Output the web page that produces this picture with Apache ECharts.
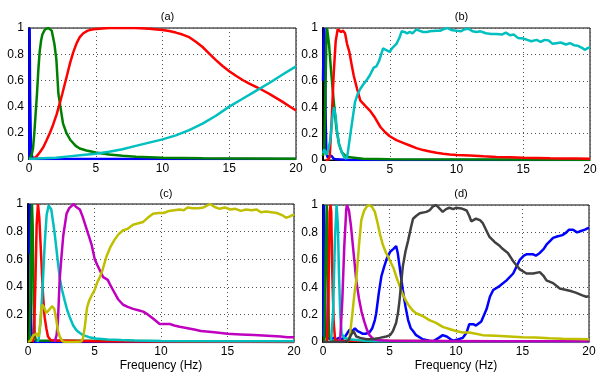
<!DOCTYPE html>
<html>
<head>
<meta charset="utf-8">
<script src="https://cdn.jsdelivr.net/npm/echarts@6/dist/echarts.min.js"></script>
<style>html,body{margin:0;padding:0;background:#fff}#c{width:602px;height:376px}</style>
</head>
<body>
<div id="c"></div>
<script>
// ---- data ([frequency Hz, normalized value]) ----
const xTicks = [0, 5, 10, 15, 20];
const yTicks = [0, 0.2, 0.4, 0.6, 0.8, 1];
const panelTitles = ['(a)', '(b)', '(c)', '(d)'];
const xLabel = 'Frequency (Hz)';

const aBlue = [[0.02,0],[0.05,1],[0.08,0.5],[0.15,0.05],[0.3,0],[20,0]];
const aGreen = [[0,0],[0.2,0.03],[0.3,0.08],[0.4,0.2],[0.5,0.35],[0.6,0.5],[0.7,0.68],[0.8,0.82],[0.9,0.9],[1.0,0.95],[1.2,0.99],[1.45,1],[1.7,0.98],[1.9,0.88],[2.05,0.76],[2.2,0.5],[2.35,0.4],[2.55,0.27],[2.8,0.2],[3.1,0.145],[3.5,0.1],[3.8,0.08],[4.3,0.065],[5,0.05],[6,0.035],[7,0.025],[8,0.018],[10,0.01],[13,0.005],[20,0.002]];
const aRed = [[0.3,0],[0.57,0.02],[0.8,0.05],[1.07,0.09],[1.3,0.14],[1.57,0.2],[1.8,0.26],[2.07,0.34],[2.32,0.43],[2.5,0.5],[2.7,0.58],[2.9,0.66],[3.07,0.73],[3.3,0.81],[3.57,0.885],[3.8,0.93],[4.07,0.96],[4.4,0.98],[4.82,0.99],[5.5,0.997],[6,1],[7,1],[8,1],[9,0.995],[10,0.985],[10.5,0.977],[11,0.965],[11.5,0.95],[12,0.93],[12.5,0.895],[13,0.855],[13.5,0.805],[14,0.755],[14.5,0.71],[15,0.67],[15.5,0.635],[16,0.603],[16.5,0.575],[17,0.55],[17.5,0.525],[18,0.497],[18.5,0.467],[19,0.436],[19.5,0.403],[20,0.37]];
const aCyan = [[0,0],[1,0.005],[2,0.01],[3,0.02],[4,0.03],[5,0.04],[6,0.055],[7,0.075],[8,0.1],[9,0.125],[10,0.15],[11,0.18],[12,0.22],[13,0.27],[14,0.33],[15,0.4],[16,0.46],[17,0.52],[18,0.58],[19,0.645],[20,0.707]];

const bBlue = [[0,0.6],[0.05,0.9],[0.1,1],[0.15,0.8],[0.2,0.3],[0.25,0.05],[0.35,0.02],[0.5,0.03],[0.65,0.03],[0.8,0.01],[1,0.005],[2,0],[20,0]];
const bGreen = [[0,0.03],[0.1,0.1],[0.18,0.5],[0.25,0.9],[0.3,1],[0.45,0.88],[0.6,0.68],[0.8,0.45],[1.0,0.24],[1.2,0.12],[1.4,0.06],[1.7,0.03],[2,0.02],[3,0.01],[5,0.005],[20,0.002]];
const bCyan = [[0,0.05],[0.1,0.08],[0.2,0.06],[0.3,0.04],[0.4,0.03],[0.55,0.15],[0.7,0.32],[0.82,0.4],[0.95,0.33],[1.05,0.22],[1.2,0.12],[1.4,0.06],[1.6,0.02],[1.75,0.01],[1.85,0.05],[2.0,0.16],[2.2,0.3],[2.4,0.44],[2.6,0.5],[2.8,0.54],[3.0,0.57],[3.3,0.61],[3.5,0.64],[3.8,0.7],[4.0,0.71],[4.2,0.75],[4.5,0.845],[4.7,0.835],[5.0,0.82],[5.2,0.85],[5.5,0.88],[5.7,0.92],[5.9,0.975],[6.1,0.97],[6.3,0.96],[6.5,0.97],[6.7,0.96],[7.0,0.99],[7.2,0.98],[7.5,0.97],[7.8,0.97],[8.0,0.975],[8.5,0.98],[8.8,0.98],[9.0,0.99],[9.3,1.0],[9.6,0.985],[10,0.98],[10.3,0.975],[10.6,0.99],[10.9,0.995],[11.2,0.975],[11.5,0.97],[11.8,0.975],[12.2,0.96],[12.6,0.955],[13,0.955],[13.4,0.95],[13.7,0.965],[14,0.945],[14.3,0.95],[14.6,0.925],[15,0.92],[15.3,0.91],[15.6,0.9],[16,0.91],[16.3,0.895],[16.6,0.91],[16.9,0.905],[17.2,0.88],[17.5,0.885],[17.8,0.89],[18.2,0.875],[18.5,0.885],[18.8,0.87],[19.1,0.865],[19.4,0.85],[19.6,0.835],[19.8,0.845],[20,0.855]];
const bRed = [[0.2,0],[0.35,0],[0.5,0.02],[0.65,0.3],[0.8,0.65],[0.95,0.9],[1.1,0.99],[1.2,1.0],[1.35,0.97],[1.5,0.98],[1.65,0.96],[1.8,0.88],[1.97,0.82],[2.15,0.72],[2.3,0.64],[2.55,0.54],[2.8,0.45],[3.17,0.41],[3.55,0.37],[3.9,0.32],[4.3,0.25],[4.66,0.21],[5.0,0.18],[5.5,0.15],[6,0.13],[6.5,0.11],[7,0.09],[7.5,0.075],[8,0.065],[8.5,0.055],[9,0.048],[9.5,0.042],[10,0.037],[11,0.035],[12,0.028],[13,0.023],[14,0.02],[15,0.017],[16,0.015],[17,0.013],[18,0.012],[19,0.011],[20,0.01]];

const cBlue = [[0.1,0.64],[0.14,1],[0.18,0.7],[0.22,0.2],[0.28,0.02],[0.5,0],[20,0]];
const cGreen = [[0.1,0],[0.18,0.3],[0.25,0.85],[0.3,1],[0.35,0.85],[0.42,0.3],[0.5,0.05],[0.6,0.01],[20,0]];
const cRed = [[0.35,0],[0.45,0.05],[0.55,0.4],[0.65,0.85],[0.75,1],[0.85,0.9],[1.0,0.6],[1.13,0.34],[1.25,0.18],[1.38,0.1],[1.5,0.04],[1.7,0.015],[2,0.01],[5,0.005],[20,0]];
const cCyan = [[0.7,0],[0.8,0.02],[0.95,0.15],[1.1,0.4],[1.25,0.7],[1.4,0.92],[1.55,0.99],[1.63,1],[1.75,0.96],[1.9,0.86],[2.0,0.79],[2.2,0.62],[2.38,0.47],[2.55,0.38],[2.76,0.3],[2.95,0.23],[3.14,0.18],[3.4,0.12],[3.64,0.085],[3.9,0.065],[4.14,0.05],[4.6,0.035],[5.1,0.025],[6,0.018],[7,0.014],[8,0.011],[10,0.008],[15,0.005],[20,0.005]];
const cMagenta = [[2.0,0],[2.15,0.05],[2.25,0.15],[2.38,0.45],[2.5,0.6],[2.65,0.77],[2.9,0.93],[3.1,0.97],[3.44,1.0],[3.6,0.98],[3.9,0.96],[4.1,0.91],[4.27,0.86],[4.5,0.79],[4.77,0.71],[5.02,0.6],[5.2,0.56],[5.4,0.52],[5.65,0.47],[6.0,0.45],[6.2,0.41],[6.4,0.375],[6.77,0.31],[7.15,0.27],[7.5,0.255],[7.9,0.24],[8.3,0.23],[8.66,0.22],[9.0,0.2],[9.4,0.17],[9.9,0.13],[10.3,0.13],[10.66,0.13],[11.0,0.12],[11.4,0.11],[12,0.1],[12.5,0.09],[13,0.08],[14,0.07],[15,0.06],[16,0.055],[17,0.05],[18,0.045],[19,0.04],[19.5,0.035],[20,0.035]];
const cYellow = [[0,0],[0.2,0.01],[0.4,0.05],[0.55,0.04],[0.7,0.06],[0.8,0.04],[0.9,0.12],[1.0,0.24],[1.08,0.27],[1.2,0.25],[1.38,0.21],[1.5,0.21],[1.65,0.24],[1.8,0.26],[1.88,0.27],[1.98,0.24],[2.13,0.16],[2.25,0.08],[2.38,0.04],[2.6,0.005],[2.8,0],[3.5,0],[4.0,0.003],[4.14,0.03],[4.27,0.11],[4.44,0.25],[4.6,0.3],[4.8,0.34],[5.0,0.375],[5.2,0.43],[5.4,0.47],[5.6,0.52],[5.9,0.62],[6.2,0.69],[6.5,0.74],[6.8,0.78],[7.15,0.81],[7.5,0.82],[7.9,0.85],[8.3,0.86],[8.66,0.87],[9.0,0.9],[9.4,0.93],[9.8,0.935],[10.2,0.935],[10.6,0.95],[11,0.955],[11.4,0.96],[11.7,0.955],[12.0,0.975],[12.4,0.97],[12.8,0.97],[13.2,0.975],[13.7,1.0],[14,0.98],[14.4,0.965],[14.8,0.975],[15.2,0.96],[15.6,0.965],[16,0.95],[16.4,0.96],[16.8,0.955],[17.2,0.96],[17.5,0.94],[17.9,0.945],[18.3,0.94],[18.7,0.935],[19.1,0.92],[19.4,0.9],[19.7,0.91],[20,0.925]];

const dBlue = [[0.02,0.04],[0.06,1],[0.1,1],[0.14,0.5],[0.2,0.05],[0.3,0.03],[0.45,0.04],[0.6,0.02],[0.8,0.03],[1.0,0.02],[1.2,0.03],[1.4,0.02],[1.6,0.03],[1.8,0.06],[2.0,0.09],[2.2,0.08],[2.4,0.1],[2.6,0.08],[2.8,0.07],[3.0,0.06],[3.2,0.06],[3.5,0.07],[3.7,0.1],[3.9,0.16],[4.0,0.21],[4.2,0.36],[4.39,0.48],[4.6,0.55],[4.8,0.61],[5.06,0.66],[5.3,0.68],[5.5,0.7],[5.62,0.65],[5.76,0.55],[6.0,0.38],[6.2,0.26],[6.4,0.16],[6.6,0.1],[6.77,0.08],[7.0,0.05],[7.5,0.02],[8.0,0.01],[8.27,0.005],[8.7,0.03],[9.0,0.05],[9.3,0.04],[9.6,0.02],[9.8,0.01],[10.2,0.02],[10.5,0.03],[10.8,0.07],[11.0,0.13],[11.3,0.13],[11.5,0.12],[11.9,0.15],[12.3,0.24],[12.55,0.33],[12.8,0.38],[13.3,0.41],[13.8,0.45],[14.3,0.5],[14.6,0.56],[14.8,0.6],[15.1,0.63],[15.3,0.64],[15.8,0.64],[16.0,0.63],[16.3,0.65],[16.6,0.68],[16.8,0.71],[17.1,0.74],[17.3,0.76],[17.6,0.77],[18.0,0.78],[18.3,0.8],[18.5,0.82],[18.8,0.82],[19.1,0.8],[19.4,0.81],[19.7,0.82],[20,0.835]];
const dGray = [[0,0],[1.5,0],[1.9,0.01],[2.1,0.05],[2.3,0.08],[2.5,0.04],[2.8,0.03],[3.26,0.02],[3.7,0.02],[4.26,0.03],[4.76,0.04],[5.05,0.05],[5.26,0.08],[5.5,0.14],[5.65,0.22],[5.76,0.31],[5.9,0.45],[6.0,0.55],[6.2,0.66],[6.4,0.74],[6.6,0.83],[6.77,0.9],[7.0,0.92],[7.27,0.94],[7.77,0.95],[8.0,0.96],[8.27,0.99],[8.5,1.0],[8.7,0.98],[9.0,0.95],[9.25,0.97],[9.5,0.98],[9.8,0.97],[10.0,0.98],[10.4,0.975],[10.8,0.96],[11.0,0.92],[11.15,0.88],[11.5,0.9],[11.8,0.89],[12.0,0.87],[12.3,0.81],[12.5,0.77],[12.9,0.73],[13.3,0.7],[13.5,0.68],[13.9,0.65],[14.3,0.59],[14.8,0.53],[15.3,0.5],[15.8,0.5],[16.3,0.51],[16.6,0.48],[16.8,0.45],[17.3,0.43],[17.8,0.39],[18.3,0.38],[18.7,0.37],[19.0,0.36],[19.5,0.34],[19.8,0.33],[20,0.335]];
const dYellow = [[1.8,0],[2.0,0.03],[2.2,0.2],[2.35,0.34],[2.5,0.45],[2.7,0.7],[2.88,0.89],[3.1,0.96],[3.3,0.99],[3.46,1.0],[3.7,0.985],[3.9,0.95],[4.1,0.87],[4.3,0.78],[4.5,0.71],[4.7,0.66],[4.9,0.62],[5.1,0.58],[5.3,0.54],[5.5,0.48],[5.76,0.41],[5.95,0.36],[6.14,0.32],[6.3,0.29],[6.5,0.26],[6.75,0.23],[7.0,0.21],[7.5,0.19],[8.0,0.16],[8.5,0.14],[9.0,0.11],[9.5,0.095],[10,0.08],[10.5,0.07],[11,0.07],[11.5,0.06],[12,0.05],[13,0.045],[14,0.04],[15,0.035],[16,0.032],[17,0.027],[18,0.024],[19,0.022],[20,0.02]];
const dMagenta = [[1.2,0],[1.3,0.03],[1.45,0.3],[1.6,0.7],[1.75,0.97],[1.8,1.0],[1.95,0.96],[2.1,0.85],[2.3,0.65],[2.5,0.45],[2.7,0.32],[2.9,0.22],[3.1,0.15],[3.3,0.09],[3.5,0.05],[3.8,0.02],[4.2,0.012],[5,0.01],[7,0.008],[10,0.005],[20,0.005]];
const dCyan = [[0.6,0],[0.75,0.2],[0.9,0.75],[1.02,1.0],[1.12,0.85],[1.2,0.5],[1.3,0.2],[1.4,0.06],[1.6,0.03],[2,0.02],[2.5,0.015],[3,0.01],[4,0.005],[20,0.003]];
const dRed = [[0.3,0],[0.4,0.3],[0.5,0.95],[0.56,1],[0.62,0.95],[0.7,0.5],[0.8,0.15],[0.9,0.03],[1.0,0.01],[20,0.003]];
const dGreen = [[0.1,0],[0.2,0.6],[0.28,1],[0.35,0.6],[0.45,0.05],[0.6,0.01],[20,0]];

// ---- styling / layout ----
const COL = {blue:'#0000ff', green:'#008000', red:'#ff0000', cyan:'#00bfbf', magenta:'#bf00bf', yellow:'#bfbf00', gray:'#404040'};
const FONT = '"Liberation Sans", Arial, Helvetica, sans-serif';
const grids = [
  {left:29, top:28, width:267, height:131},
  {left:323, top:28, width:267, height:132},
  {left:28, top:204, width:266, height:138},
  {left:323, top:205, width:266, height:137}
];
const panels = [
  [[aBlue,'blue'],[aGreen,'green'],[aRed,'red'],[aCyan,'cyan']],
  [[bBlue,'blue'],[bGreen,'green'],[bRed,'red'],[bCyan,'cyan']],
  [[cBlue,'blue'],[cGreen,'green'],[cRed,'red'],[cCyan,'cyan'],[cMagenta,'magenta'],[cYellow,'yellow']],
  [[dBlue,'blue'],[dGreen,'green'],[dRed,'red'],[dCyan,'cyan'],[dMagenta,'magenta'],[dYellow,'yellow'],[dGray,'gray']]
];

const fmt = v => String(+v.toFixed(1));
const option = {
  animation:false,
  backgroundColor:'#fff',
  title: grids.map((g,i)=>({
    text: panelTitles[i], left: g.left + g.width/2, top: i<2 ? 6 : 183, textAlign:'center',
    textStyle:{fontSize:11, fontWeight:'normal', color:'#000', fontFamily:FONT}
  })),
  grid: grids.map(g=>Object.assign({show:true, borderColor:'#000', borderWidth:1, backgroundColor:'transparent'}, g)),
  xAxis: grids.map((g,i)=>({
    type:'value', gridIndex:i, min:xTicks[0], max:xTicks[xTicks.length-1], interval:xTicks[1]-xTicks[0],
    name: i>=2 ? xLabel : '', nameLocation:'middle', nameGap:18,
    nameTextStyle:{fontSize:12, color:'#000', fontFamily:FONT},
    axisLine:{show:true, lineStyle:{color:'#000', width:1}},
    axisTick:{show:false},
    axisLabel:{fontSize:12, color:'#000', fontFamily:FONT, margin:4},
    splitLine:{show:true, lineStyle:{color:'#555', width:1, type:[1,3]}}
  })),
  yAxis: grids.map((g,i)=>({
    type:'value', gridIndex:i, min:yTicks[0], max:yTicks[yTicks.length-1], interval:yTicks[1]-yTicks[0],
    axisLine:{show:true, lineStyle:{color:'#000', width:2}},
    axisTick:{show:false},
    axisLabel:{fontSize:12, color:'#000', fontFamily:FONT, margin:5,
      formatter: v => (i===2 && v===0) ? '' : fmt(v)},
    splitLine:{show:true, lineStyle:{color:'#555', width:1, type:[1,3]}}
  })),
  series: []
};
panels.forEach((p,i)=>p.forEach(([data,c])=>{
  option.series.push({type:'line', xAxisIndex:i, yAxisIndex:i, data:data, showSymbol:false, symbol:'none',
    lineStyle:{color:COL[c], width:2.5}, itemStyle:{color:COL[c]}, clip:true, z:2});
}));
const chart = echarts.init(document.getElementById('c'), null, {renderer:'canvas'});
chart.setOption(option);
</script>
</body>
</html>
